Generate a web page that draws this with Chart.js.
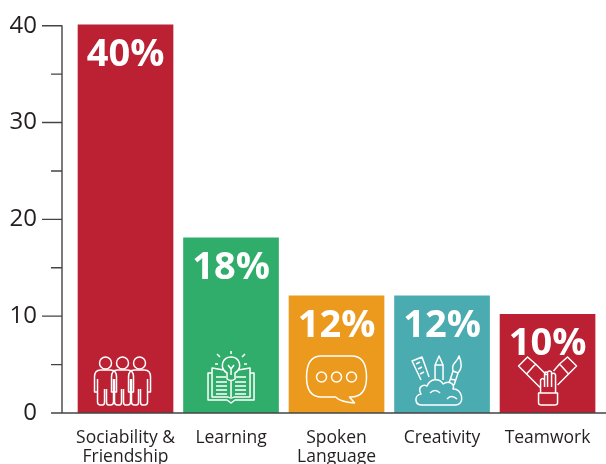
<!DOCTYPE html>
<html>
<head>
<meta charset="utf-8">
<style>
html, body { margin: 0; padding: 0; background: #fff; overflow: hidden; }
canvas { display: block; }
</style>
<script src="https://cdn.jsdelivr.net/npm/chart.js@4"></script>
</head>
<body>
<canvas id="mycanvas" width="606" height="464"></canvas>
<script>
var categories = [["Sociability &", "Friendship"], ["Learning"], ["Spoken", "Language"], ["Creativity"], ["Teamwork"]];
var values = [40.1, 18.1, 12.1, 12.1, 10.2];
var percentLabels = ["40%", "18%", "12%", "12%", "10%"];
var barColors = ["#BB2033", "#31AD6B", "#EC9A1E", "#4AABB0", "#BB2033"];
var yTickLabels = [0, 10, 20, 30, 40];

var axisColor = "#444444";

// white outline icons, units are px from bar centre / baseline
var person = "M-5 -43 H5 Q11 -43 11 -36 V-21 H8 M-8 -21 H-11 V-36 Q-11 -43 -5 -43 M-8 -34 V-11 Q-8 -8 -5 -8 H-3 Q-1 -8 -1 -11 V-24 M1 -24 V-11 Q1 -8 3 -8 H5 Q8 -8 8 -11 V-34";
var iconPaths = [
	[
		{ dx: -20, d: person }, { dx: -3, d: person }, { dx: 14, d: person }
	],
	[
		{ dx: 0, d: "M-4 -40 C-12 -45 -9 -56 0 -56 C9 -56 12 -45 4 -40 V-34 Q0 -31 -4 -34 Z M-3 -48 L0 -44 L3 -48 M0 -44 V-38 M-7 -43 L-19 -45 V-16 H-3 Q0 -14 3 -16 H19 V-45 L7 -43 M-19 -40 H-23 V-13 H-4 L0 -10 L4 -13 H23 V-40 H19 M0 -33 V-16 M-15 -36 H-5 M-15 -31 H-4 M-15 -27 H-4 M-15 -23 H-4 M-15 -19 H-4 M5 -36 H15 M4 -31 H15 M4 -27 H15 M4 -23 H15 M4 -19 H15 M0 -59 V-62 M-11 -56 L-14 -59 M11 -56 L14 -59 M-13 -49 H-16 M13 -49 H16" }
	],
	[
		{ dx: 0, d: "M-15 -57 H15 Q30 -57 30 -36 Q30 -16 14 -16 H13 L18 -10 Q4 -11 -1 -16 H-15 Q-30 -16 -30 -36 Q-30 -57 -15 -57 Z M-10 -36 a5 5 0 1 0 -10 0 a5 5 0 1 0 10 0 Z M5 -36 a5 5 0 1 0 -10 0 a5 5 0 1 0 10 0 Z M20 -36 a5 5 0 1 0 -10 0 a5 5 0 1 0 10 0 Z" }
	],
	[
		{ dx: 0, d: "M-21 -19 C-25 -26 -19 -29 -15 -27 C-12 -35 -2 -35 1 -29 C7 -33 13 -29 11 -24 C20 -25 24 -8 13 -8 H-20 C-28 -8 -28 -18 -21 -19 Z M-12 -20 Q-7 -25 -2 -20 M5 -14 Q9 -19 15 -14 M-21 -33 L-30 -52 L-20 -56 L-13 -36 M-26 -49 L-22 -51 M-24 -44 L-20 -46 M-22 -39 L-18 -41 M-7 -33 V-48 L-3 -57 L1 -48 V-33 M-7 -48 H1 M7 -30 L11 -42 L16 -40 L12 -28 M8 -34 L13 -33 M11 -42 C9 -50 15 -50 17 -57 C20 -50 20 -44 16 -40" }
	],
	[
		{ dx: 0, d: "M-29 -47 L-20 -56 L-12 -49 L-21 -39 Z M-12 -49 L-1 -38 M-21 -39 L-7 -25 M29 -47 L20 -56 L12 -49 L21 -39 Z M12 -49 L6 -42 M21 -39 L10 -28 M-7 -20 V-33 Q-5 -36 -3 -33 V-40 Q-2 -42 0 -40 V-41 Q2 -43 4 -41 V-39 Q7 -41 8 -38 V-20 Z M-3 -33 V-26 M0 -40 V-26 M4 -41 V-26 M-9 -20 H10 V-10 Q10 -8 7 -8 H-6 Q-9 -8 -9 -10 Z" }
	]
];

var ctx = document.getElementById("mycanvas").getContext("2d");

// y axis ticks, axis line, baseline, value labels and icons
var decorations = {
	id: "decorations",
	afterDatasetsDraw: function(chart) {
		var c = chart.ctx;
		var yScale = chart.scales.y;
		var area = chart.chartArea;
		var meta = chart.getDatasetMeta(0);
		var y0 = yScale.getPixelForValue(0);

		c.save();
		c.strokeStyle = axisColor;
		c.lineWidth = 1.4;
		c.beginPath();
		c.moveTo(area.left, yScale.getPixelForValue(40) - 0.5);
		c.lineTo(area.left, y0);
		c.moveTo(51, y0);
		c.lineTo(area.right, y0);
		for (var v = 5; v <= 40; v += 5) {
			var py = yScale.getPixelForValue(v);
			c.moveTo(v % 10 === 0 ? 42 : 51, py);
			c.lineTo(area.left, py);
		}
		c.stroke();

		meta.data.forEach(function(bar, i) {
			c.fillStyle = "#fff";
			c.font = "bold 38px 'Open Sans'";
			c.textAlign = "center";
			c.textBaseline = "alphabetic";
			c.fillText(percentLabels[i], bar.x, bar.y + 41);

			c.save();
			c.strokeStyle = "#fff";
			c.lineWidth = 1.5;
			c.lineJoin = "round";
			iconPaths[i].forEach(function(part) {
				c.save();
				c.translate(bar.x + part.dx, y0);
				c.stroke(new Path2D(part.d));
				if (i === 0) {
					c.beginPath();
					c.arc(0, -50, 6, 0, Math.PI * 2);
					c.stroke();
				}
				c.restore();
			});
			c.restore();
		});
		c.restore();
	}
};

var chartdata = {
	datasets: [
		{
			data: values.map(function(v, i) { return { x: i, y: v }; }),
			backgroundColor: barColors,
			borderWidth: 0,
			barThickness: 95
		}
	]
};

var myChart = new Chart(ctx, {
	type: "bar",
	data: chartdata,
	plugins: [decorations],
	options: {
		responsive: false,
		animation: false,
		layout: { padding: { top: 16, right: 0, bottom: 0, left: 0 } },
		plugins: { legend: { display: false }, tooltip: { enabled: false } },
		scales: {
			x: {
				type: "linear",
				offset: false,
				min: -0.602,
				max: 4.554,
				grid: { display: false },
				border: { display: false },
				afterFit: function(scale) { scale.height = 51; },
				afterBuildTicks: function(scale) {
					scale.ticks = categories.map(function(c, i) { return { value: i }; });
				},
				ticks: {
					autoSkip: false,
					maxRotation: 0,
					padding: 7,
					color: "#231F20",
					font: { family: "'Open Sans'", size: 17.5, lineHeight: 1.1 },
					callback: function(value) { return categories[value]; }
				}
			},
			y: {
				min: 0,
				max: 41,
				grid: { display: false, drawTicks: false },
				border: { display: false },
				afterFit: function(scale) {
					scale.width = 62;
					scale.paddingTop = 0;
					scale.paddingBottom = 0;
				},
				afterBuildTicks: function(scale) {
					scale.ticks = yTickLabels.map(function(v) { return { value: v }; });
				},
				ticks: {
					padding: 25,
					color: "#231F20",
					font: { family: "'Open Sans'", size: 24 }
				}
			}
		}
	}
});
</script>
</body>
</html>
